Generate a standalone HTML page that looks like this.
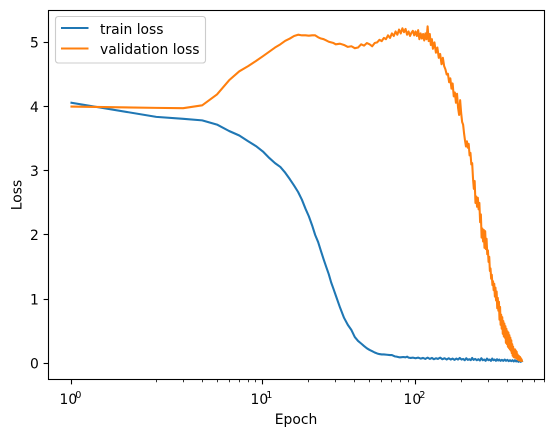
<!DOCTYPE html>
<html lang="en">
<head>
<meta charset="utf-8">
<title>Loss chart</title>
<style>
html,body{margin:0;padding:0;background:#fff;width:554px;height:437px;overflow:hidden}
svg{display:block}
text{font-family:"DejaVu Sans","Liberation Sans",sans-serif;font-size:13.89px;fill:#000}
</style>
</head>
<body>
<svg id="chart" xmlns="http://www.w3.org/2000/svg" width="554" height="437" viewBox="0 0 554 437">
  <g id="series-layer"></g>
  <g id="axis-layer"></g>
  <rect x="48.5" y="10.5" width="496" height="369" fill="none" stroke="#000" stroke-width="1.1"/>
  <text x="296" y="424" text-anchor="middle">Epoch</text>
  <text transform="translate(21.5 195) rotate(-90)" text-anchor="middle">Loss</text>
  <g>
    <rect x="55.5" y="16.5" width="150" height="46.5" rx="2.8" fill="#fff" fill-opacity="0.8" stroke="#ccc" stroke-width="1.1"/>
    <line x1="61" y1="28" x2="88.5" y2="28" stroke="#1f77b4" stroke-width="2.08"/>
    <text x="100" y="34">train loss</text>
    <line x1="61" y1="48.5" x2="88.5" y2="48.5" stroke="#ff7f0e" stroke-width="2.08"/>
    <text x="100" y="54">validation loss</text>
  </g>
</svg>
<script>
const trainEpochs = [
  1,2,3,4,5,6,7,8,9,10,
  11,12,13,14,15,16,17,18,19,20,
  21,22,23,24,25,26,27,28,29,30,
  32,34,36,38,40,42,44,46,48,50,
  52,54,56,58,60,62,65,68,70,73,
  75,78,80,83,86,88,90,93,96,100,
  104,108,112,116,120,124,128,132,136,140,
  145,150,155,160,165,170,175,180,185,190,
  195,200,205,210,215,220,225,230,235,240,
  246,252,258,264,270,276,282,288,294,300,
  306,312,318,324,330,336,342,348,354,360,
  368,376,384,392,400,408,416,424,432,440,
  448,456,464,472,480,488,498
];
const trainLoss = [
  4.06,3.84,3.81,3.785,3.72,3.62,3.55,3.46,3.385,3.30,
  3.20,3.12,3.06,2.97,2.87,2.77,2.67,2.55,2.41,2.29,
  2.15,2.00,1.89,1.75,1.62,1.50,1.39,1.26,1.16,1.06,
  .87,.71,.60,.52,.41,.35,.31,.27,.235,.21,
  .19,.17,.155,.145,.14,.14,.135,.13,.13,.11,
  .105,.095,.095,.10,.095,.105,.09,.085,.09,.08,
  .09,.075,.085,.07,.09,.07,.085,.065,.08,.07,
  .09,.065,.08,.06,.08,.06,.075,.055,.075,.06,
  .085,.06,.07,.05,.08,.055,.065,.05,.085,.055,
  .07,.05,.065,.045,.08,.05,.06,.04,.075,.05,
  .06,.04,.075,.05,.06,.04,.065,.045,.06,.04,
  .055,.04,.06,.04,.055,.035,.05,.035,.05,.03,
  .05,.03,.045,.025,.04,.025,.035
];
const valEpochs = [
  1,2,3,4,5,6,7,8,9,10,
  11,12,13,14,15,16,17,18,19,20,
  21,22,23,24,25,26,27,28,29,30,
  32,34,36,38,40,42,44,46,48,50,
  52,54,56,58,60,62,64,66,68,70,
  72,74,76,78,80,82,84,86,88,90,
  92,94,96,98,100,102,104,106,108,110,
  112,114,116,118,120,122,124,126,128,130,
  133,136,139,142,145,148,151,154,157,160,
  163,166,169,172,175,178,181,184,187,190,
  193,196,199,
  202,205,208,211,214,217,220,223,226,229,
  232,235,238,241,244,247,250,253,256,259,
  262,265,268,271,274,277,280,283,286,289,
  292,295,298,301,304,307,310,313,316,319,
  322,325,328,331,334,337,340,343,346,349,
  352,355,358,361,364,367,370,373,376,379,
  382,385,388,391,394,397,400,403,406,409,
  412,415,418,421,424,427,430,433,436,439,
  442,445,448,451,454,457,460,463,466,469,
  472,475,478,481,484,487,490,493,496,498
];
const valLoss = [
  4.00,3.98,3.975,4.02,4.19,4.41,4.55,4.63,4.71,4.785,
  4.855,4.92,4.97,5.025,5.06,5.10,5.12,5.11,5.11,5.105,
  5.11,5.11,5.08,5.06,5.05,5.03,5.01,5.00,4.99,4.97,
  4.98,4.96,4.93,4.94,4.91,4.92,4.97,4.95,4.99,4.97,
  4.94,4.99,5.00,5.04,5.02,5.07,5.05,5.11,5.07,5.14,
  5.10,5.17,5.12,5.20,5.14,5.22,5.16,5.21,5.12,5.17,
  5.10,5.15,5.18,5.11,5.17,5.10,5.19,5.05,5.14,5.06,
  5.13,5.03,5.14,5.05,5.25,5.02,5.13,4.96,5.05,4.90,
  5.00,4.84,4.92,4.76,4.82,4.66,4.76,4.63,4.58,4.50,
  4.51,4.38,4.44,4.28,4.36,4.16,4.22,4.06,4.20,3.98,
  3.87,4.10,3.90,
  3.76,3.72,3.58,3.47,3.38,3.46,3.36,3.42,3.24,3.28,
  3.10,3.12,2.88,2.72,2.84,2.50,2.60,2.44,2.58,2.40,
  2.50,2.20,2.32,1.96,2.10,1.90,2.08,1.80,2.06,1.78,
  1.94,1.70,1.76,1.58,1.66,1.44,1.48,1.32,1.38,1.22,
  1.28,1.14,1.24,1.04,1.18,0.98,1.12,0.86,1.02,0.82,
  0.96,0.68,0.88,0.60,0.76,0.54,0.72,0.46,0.66,0.42,
  0.62,0.40,0.58,0.32,0.54,0.30,0.50,0.26,0.48,0.24,
  0.44,0.22,0.40,0.20,0.36,0.16,0.30,0.12,0.26,0.10,
  0.20,0.09,0.22,0.10,0.20,0.08,0.18,0.07,0.14,0.06,
  0.12,0.05,0.11,0.05,0.10,0.04,0.08,0.04,0.06,0.04
];
const yTicks = [0,1,2,3,4,5];
const xMajorTicks = [1,10,100];
const xMajorExponents = ["0","1","2"];
const xMinorTicks = [2,3,4,5,6,7,8,9,20,30,40,50,60,70,80,90,200,300,400,500,600,700];

const NS = "http://www.w3.org/2000/svg";
const LINTHRESH = 2;
const LINSCALE = 1 / (1 - 1 / 10);

function symlog(e) {
  return e < LINTHRESH ? e * LINSCALE : LINTHRESH * (LINSCALE + Math.log10(e / LINTHRESH));
}
function xPos(e) {
  return 71.5 + 76.3 * (symlog(e) - symlog(1));
}
function yPos(v) {
  return 363.4 - 64.2 * v;
}
function make(tag, attrs, parent) {
  const el = document.createElementNS(NS, tag);
  for (const k in attrs) el.setAttribute(k, attrs[k]);
  parent.appendChild(el);
  return el;
}

const series = document.getElementById("series-layer");
const axis = document.getElementById("axis-layer");

function pathFor(xs, ys) {
  return xs.map((e, i) => (i ? "L" : "M") + xPos(e).toFixed(2) + " " + yPos(ys[i]).toFixed(2)).join("");
}

const trainLine = make("path", {d: pathFor(trainEpochs, trainLoss), fill: "none", stroke: "#1f77b4", "stroke-width": 2.08, "stroke-linejoin": "round", "stroke-linecap": "square"}, series);



const valLine = make("path", {d: pathFor(valEpochs, valLoss), fill: "none", stroke: "#ff7f0e", "stroke-width": 2.08, "stroke-linejoin": "round", "stroke-linecap": "square"}, series);



yTicks.forEach(function (v) {
  const y = Math.floor(yPos(v)) + 0.5;
  const tick = make("line", {x1: 43.6, x2: 48.5, y1: y, y2: y, stroke: "#000", "stroke-width": 1.1}, axis);
  
  
  const label = make("text", {x: 38.8, y: yPos(v) + 5.2, "text-anchor": "end"}, axis);
  
  
  label.textContent = String(v);
});

xMajorTicks.forEach(function (e, i) {
  const x = Math.floor(xPos(e)) + 0.5;
  const tick = make("line", {x1: x, x2: x, y1: 379.5, y2: 384.4, stroke: "#000", "stroke-width": 1.1}, axis);
  
  
  const label = make("text", {x: x - 12, y: 404}, axis);
  
  
  label.textContent = "10";
  const sup = make("text", {x: x + 3.8, y: 398, style: "font-size:9.7px"}, axis);
  
  
  sup.textContent = xMajorExponents[i];
});

xMinorTicks.forEach(function (e) {
  const x = Math.floor(xPos(e)) + 0.5;
  const tick = make("line", {x1: x, x2: x, y1: 379.5, y2: 382.3, stroke: "#000", "stroke-width": 0.8}, axis);
  
  
});
</script>
</body>
</html>
